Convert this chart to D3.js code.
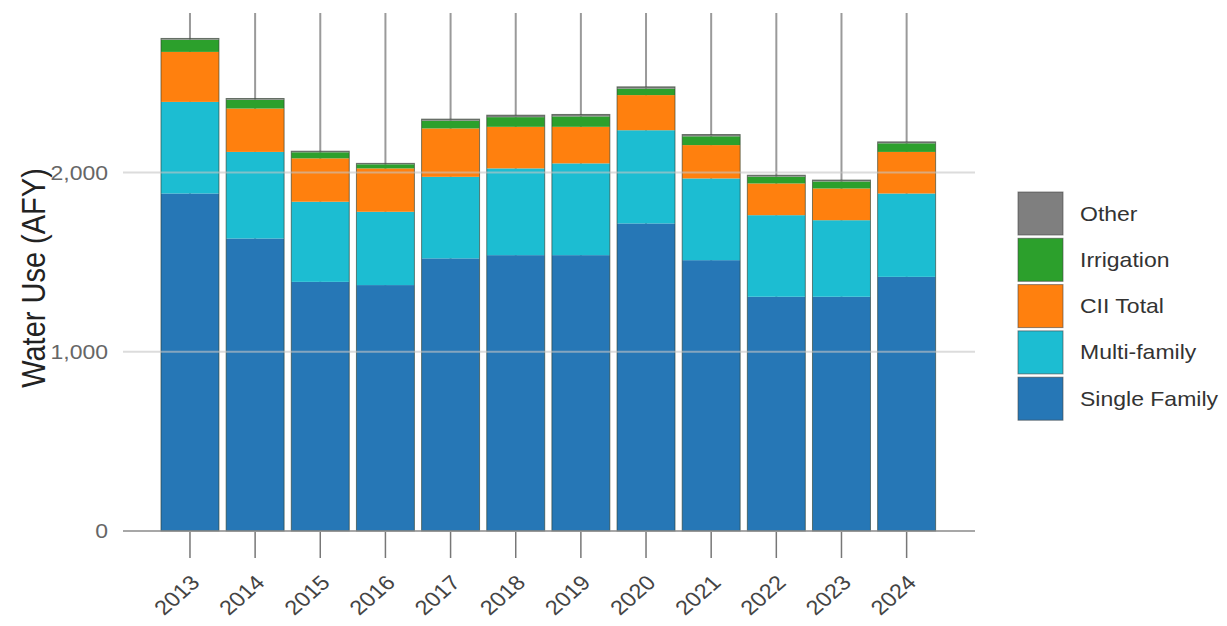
<!DOCTYPE html>
<html>
<head>
<meta charset="utf-8">
<script src="https://cdn.jsdelivr.net/npm/d3@7"></script>
<style>
  html, body { margin: 0; padding: 0; background: #fff; }
  svg { display: block; font-family: "Liberation Sans", Arial, sans-serif; }
</style>
</head>
<body>
<svg id="chart" width="1227" height="626"></svg>
<script>
// ---- data ----
const years = ["2013","2014","2015","2016","2017","2018","2019","2020","2021","2022","2023","2024"];
const singleFamily = [1883, 1632, 1390, 1372, 1521, 1539, 1539, 1716, 1511, 1307, 1307, 1418];
const multiFamily  = [ 511,  483,  447,  409,  455,  484,  512,  520,  456,  455,  427,  465];
const ciiTotal     = [ 279,  242,  242,  242,  270,  232,  204,  196,  186,  177,  177,  232];
const irrigation   = [  68,   49,   34,   23,   43,   54,   58,   36,   49,   38,   39,   48];
const other        = [   7,    7,    6,    5,    9,   11,   11,   10,   10,    8,    8,    8];
const seriesNames  = ["Single Family", "Multi-family", "CII Total", "Irrigation", "Other"];
const yTicks = [0, 1000, 2000];
const yTitle = "Water Use (AFY)";

const colors = {
  "Single Family": "#2677b6",
  "Multi-family": "#1cbdd2",
  "CII Total": "#ff800e",
  "Irrigation": "#2ca02c",
  "Other": "#7f7f7f"
};

const rows = years.map((y, i) => ({
  year: y,
  "Single Family": singleFamily[i],
  "Multi-family": multiFamily[i],
  "CII Total": ciiTotal[i],
  "Irrigation": irrigation[i],
  "Other": other[i]
}));

const svg = d3.select("#chart");
const SX = 1.15; // horizontal stretch of text in the reference

const x = d3.scaleBand().domain(years).range([123, 973.6]).paddingInner(0.11).paddingOuter(0.583);
const y = d3.scaleLinear().domain([0, 2890]).range([531, 13]);

const stack = d3.stack().keys(seriesNames)(rows);

// vertical guide lines behind bars
svg.append("g").selectAll("line").data(years).join("line")
  .attr("x1", d => x(d) + x.bandwidth() / 2)
  .attr("x2", d => x(d) + x.bandwidth() / 2)
  .attr("y1", y.range()[1])
  .attr("y2", y(0))
  .attr("stroke", "#9a9a9a")
  .attr("stroke-width", 2);

// bars
const gBars = svg.append("g");
stack.forEach(layer => {
  gBars.append("g").attr("fill", colors[layer.key])
    .selectAll("rect").data(layer).join("rect")
    .attr("x", d => x(d.data.year))
    .attr("width", x.bandwidth())
    .attr("y", d => y(d[1]))
    .attr("height", d => y(d[0]) - y(d[1]));
});
// outline of each stacked bar
const totals = rows.map(r => d3.sum(seriesNames, k => r[k]));
gBars.append("g").selectAll("rect").data(years).join("rect")
  .attr("x", d => x(d))
  .attr("width", x.bandwidth())
  .attr("y", (d, i) => y(totals[i]))
  .attr("height", (d, i) => y(0) - y(totals[i]))
  .attr("fill", "none")
  .attr("stroke", "#2a3a2a")
  .attr("stroke-opacity", 0.6)
  .attr("stroke-width", 1);

// horizontal gridlines (over bars, translucent)
svg.append("g").selectAll("line").data(yTicks.filter(t => t > 0)).join("line")
  .attr("x1", 123).attr("x2", 975)
  .attr("y1", d => y(d)).attr("y2", d => y(d))
  .attr("stroke", "#c4c4c4")
  .attr("stroke-opacity", 0.6)
  .attr("stroke-width", 2);

// x axis line
svg.append("line")
  .attr("x1", 123).attr("x2", 975)
  .attr("y1", y(0)).attr("y2", y(0))
  .attr("stroke", "#8a8a8a").attr("stroke-width", 1.5);

// x ticks
svg.append("g").selectAll("line").data(years).join("line")
  .attr("x1", d => x(d) + x.bandwidth() / 2)
  .attr("x2", d => x(d) + x.bandwidth() / 2)
  .attr("y1", y(0) + 1).attr("y2", y(0) + 27)
  .attr("stroke", "#777").attr("stroke-width", 1.5);

// x labels
svg.append("g").selectAll("text").data(years).join("text")
  .attr("transform", d => `translate(${x(d) + x.bandwidth() / 2 + 11},584) scale(${SX},1) rotate(-45)`)
  .attr("text-anchor", "end")
  .attr("font-size", 20.5)
  .attr("fill", "#444")
  .text(d => d);

// y labels
const fmt = d3.format(",");
svg.append("g").selectAll("text").data(yTicks).join("text")
  .attr("transform", d => `translate(108,${y(d)}) scale(${SX},1)`)
  .attr("dy", "0.35em")
  .attr("text-anchor", "end")
  .attr("font-size", 20)
  .attr("fill", "#666")
  .text(d => fmt(d));

// y title
svg.append("text")
  .attr("transform", `translate(45,278) scale(${SX},1) rotate(-90)`)
  .attr("text-anchor", "middle")
  .attr("font-size", 29)
  .attr("fill", "#222")
  .text(yTitle);

// legend
const legendOrder = seriesNames.slice().reverse();
const lg = svg.append("g");
legendOrder.forEach((name, i) => {
  const y0 = 192 + i * 46.3;
  lg.append("rect")
    .attr("x", 1018).attr("y", y0)
    .attr("width", 45).attr("height", 43)
    .attr("fill", colors[name])
    .attr("stroke", "#444").attr("stroke-opacity", 0.6).attr("stroke-width", 1);
  lg.append("text")
    .attr("transform", `translate(1080,${y0 + 28.5}) scale(${SX},1)`)
    .attr("font-size", 20)
    .attr("fill", "#333")
    .text(name);
});
</script>
</body>
</html>
